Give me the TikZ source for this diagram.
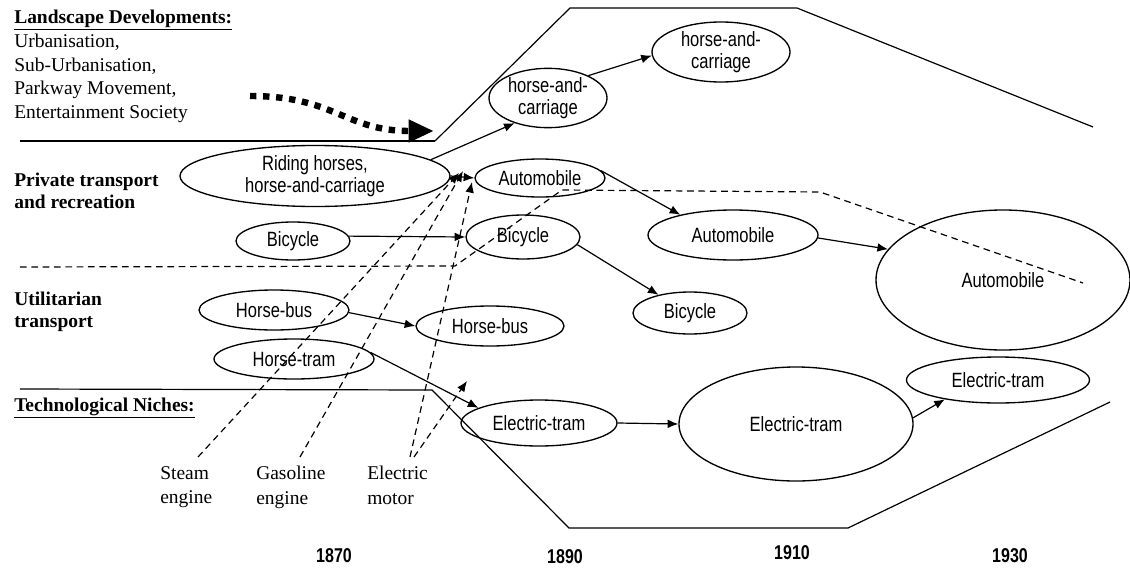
\documentclass[tikz,border=0pt]{standalone}
\usepackage{fontspec}
\setmainfont{Liberation Serif}
\newfontfamily\narrowsans[FakeStretch=0.8]{Liberation Sans}
\usetikzlibrary{shapes.geometric,arrows.meta}

\begin{document}
\begin{tikzpicture}[x=0.75pt,y=-0.75pt,
  stage/.style={ellipse, draw, line width=1pt, inner sep=0pt, align=center,
    font=\narrowsans\fontsize{15.5}{17}\selectfont},
  sz/.style 2 args={minimum width=#1*0.75pt, minimum height=#2*0.75pt},
  flow/.style={-{Latex[length=8pt,width=6.5pt]}, line width=0.9pt},
  trend/.style={line width=0.9pt, dash pattern=on 5pt off 3.5pt},
  push/.style={trend, -{Latex[length=8pt,width=6.5pt]}},
  border/.style={line width=0.9pt},
  heading/.style={anchor=west, inner sep=0pt, align=left,
    font=\bfseries\fontsize{14.6}{16.5}\selectfont},
  plain/.style={anchor=west, inner sep=0pt, align=left,
    font=\fontsize{14.6}{17.6}\selectfont},
  engine/.style={anchor=north west, inner sep=0pt, align=left,
    font=\fontsize{14.6}{18.5}\selectfont},
  year/.style={inner sep=0pt, font=\narrowsans\bfseries\fontsize{15}{16}\selectfont}
]
\useasboundingbox (0,0) rectangle (1130,567);

% ---- row headings ----
\node[heading] (hland) at (14,20) {\underline{Landscape Developments:}};
\node[plain, anchor=north west] (land) at (14,34)
  {Urbanisation,\\Sub-Urbanisation,\\Parkway Movement,\\Entertainment Society};
\node[heading] (hpriv) at (14,191) {Private transport\\and recreation};
\node[heading] (hutil) at (14,312) {Utilitarian\\transport};
\node[heading] (hniche) at (14,408) {\underline{Technological Niches:}};

% ---- regime boundaries ----
\coordinate (l0) at (20,141);
\coordinate (l1) at (435,141);
\coordinate (l2) at (570,8);
\coordinate (l3) at (797,8);
\coordinate (l4) at (1093,127);
\draw[border] (l0) -- (l1);
\draw[border] (l1) -- (l2) -- (l3) -- (l4);

\coordinate (n0) at (20,389);
\coordinate (n1) at (432,390);
\coordinate (n2) at (569,528);
\coordinate (n3) at (848,528);
\coordinate (n4) at (1110,402);
\draw[border] (n0) -- (n1) -- (n2) -- (n3) -- (n4);

% landscape pressure
\coordinate (p0) at (250,96);
\coordinate (p1) at (434,131);
\draw[line width=4.8pt, dash pattern=on 4.8pt off 5pt,
      -{Triangle[length=19pt,width=16pt]}]
  (p0) .. controls (335,96) and (345,131) .. (p1);

% ---- stages ----
\node[stage, sz={270}{61}] (riding) at (315,176) {Riding horses,\\horse-and-carriage};
\node[stage, sz={118}{57}] (hc1) at (548,98) {horse-and-\\carriage};
\node[stage, sz={138}{60}] (hc2) at (721,52) {horse-and-\\carriage};
\node[stage, sz={130}{38}] (auto1) at (540,178) {Automobile};
\node[stage, sz={170}{50}] (auto2) at (733,235) {Automobile};
\node[stage, sz={254}{140}] (auto3) at (1003,280) {Automobile};
\node[stage, sz={114}{38}] (bike0) at (293,241) {Bicycle};
\node[stage, sz={114}{44}] (bike1) at (523,237) {Bicycle};
\node[stage, sz={114}{42}] (bike2) at (690,313) {Bicycle};
\node[stage, sz={150}{40}] (bus0) at (274,310) {Horse-bus};
\node[stage, sz={148}{40}] (bus1) at (490,326) {Horse-bus};
\node[stage, sz={160}{40}] (tram0) at (294,359) {Horse-tram};
\node[stage, sz={156}{46}] (et1) at (539,423) {Electric-tram};
\node[stage, sz={234}{114}] (et2) at (796,424) {Electric-tram};
\node[stage, sz={183}{46}] (et3) at (998,380) {Electric-tram};

% ---- transitions ----
\draw[flow] (riding.8) -- (hc1.217);
\draw[flow] (hc1.29) -- (hc2.183);
\draw[flow] (riding.east) -- (auto1.west);
\draw[flow] (auto1.7) -- (auto2.159);
\draw[flow] (auto2.-2) -- (auto3.165);
\draw[flow] (bike0.5) -- (bike1.west);
\draw[flow] (bike1.-8) -- (bike2.150);
\draw[flow] (bus0.-2) -- (bus1.west);
\draw[flow] (tram0.5) -- (et1.166);
\draw[flow] (et1.east) -- (et2.west);
\draw[flow] (et2.3) -- (et3.200);

% automobile take-over of the recreation niche
\coordinate (a0) at (20,267);
\coordinate (a1) at (455,266);
\coordinate (a2) at (562,190);
\coordinate (a3) at (820,192);
\coordinate (a4) at (1083,283);
\draw[trend] (a0) -- (a1) -- (a2) -- (a3) -- (a4);

% ---- niche technologies ----
\node[engine] (steam) at (160,466) {Steam\\engine};
\node[engine] (gas) at (256,466) {Gasoline\\engine};
\node[engine] (elec) at (367,466) {Electric\\motor};
\coordinate (s0) at (198,457);
\coordinate (g0) at (300,457);
\coordinate (e0) at (410,457);
\coordinate (e1) at (414,457);
\coordinate (sT) at (459,173);
\coordinate (gT) at (463,171);
\coordinate (eT) at (472,182);
\coordinate (tT) at (467,381);
\draw[push] (s0) -- (sT);
\draw[push] (g0) -- (gT);
\draw[push] (e0) -- (eT);
\draw[push] (e1) -- (tT);

% ---- time axis ----
\node[year] (y1870) at (334,556) {1870};
\node[year] (y1890) at (565,557) {1890};
\node[year] (y1910) at (792,553) {1910};
\node[year] (y1930) at (1010,556) {1930};
\end{tikzpicture}
\end{document}
